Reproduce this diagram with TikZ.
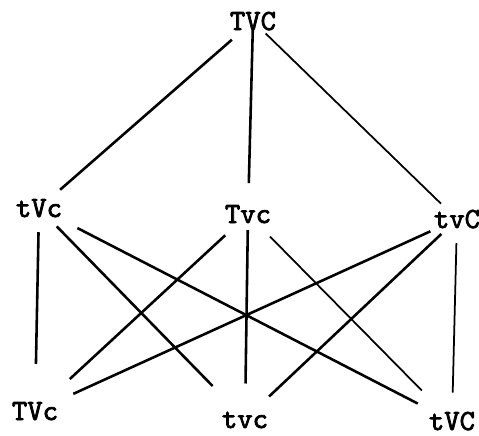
\documentclass[tikz,border=0pt]{standalone}
\usepackage{fontspec}
\newfontfamily\labelfont{lmmono10-regular.otf}[FakeBold=2.5]
\begin{document}
\begin{tikzpicture}[
    x=0.03cm, y=-0.03cm,
    vset/.style={
        anchor=base,
        font=\labelfont\fontsize{25}{28}\selectfont,
        text height=15pt,
        text depth=0pt,
        inner sep=1pt,
        outer sep=2pt
    },
    edge/.style={line width=2.2pt, draw=black},
    thinedge/.style={line width=1.5pt, draw=black},
    gap/.style 2 args={shorten <=#1, shorten >=#2}
]
    \useasboundingbox (0,0) rectangle (479,435);

    % top
    \node[vset] (TVC) at (253,30) {TVC};

    % middle row
    \node[vset] (tVc) at (39,217) {tVc};
    \node[vset] (Tvc) at (248,223) {Tvc};
    \node[vset] (tvC) at (457,228) {tvC};

    % bottom row
    \node[vset] (TVc) at (35,420) {TVc};
    \node[vset] (tvc) at (245,428) {tvc};
    \node[vset] (tVC) at (452,430) {tVC};

    \draw[edge, gap={8pt}{8pt}] (TVC) -- (tVc);
    \draw[edge, gap={-5pt}{16pt}] (TVC) -- (Tvc);
    \draw[thinedge, gap={0pt}{4pt}] (TVC) -- (tvC);

    \draw[edge, gap={10pt}{30pt}] (tVc) -- (TVc);
    \draw[edge, gap={7pt}{25pt}] (tVc) -- (tvc);
    \draw[edge, gap={14pt}{10pt}] (tVc) -- (tVC);

    \draw[edge, gap={11pt}{25pt}] (Tvc) -- (TVc);
    \draw[edge, gap={3pt}{20pt}] (Tvc) -- (tvc);
    \draw[thinedge, gap={12pt}{22pt}] (Tvc) -- (tVC);

    \draw[edge, gap={0pt}{11pt}] (tvC) -- (TVc);
    \draw[edge, gap={3pt}{13pt}] (tvC) -- (tvc);
    \draw[thinedge, gap={10pt}{14pt}] (tvC) -- (tVC);
\end{tikzpicture}
\end{document}
